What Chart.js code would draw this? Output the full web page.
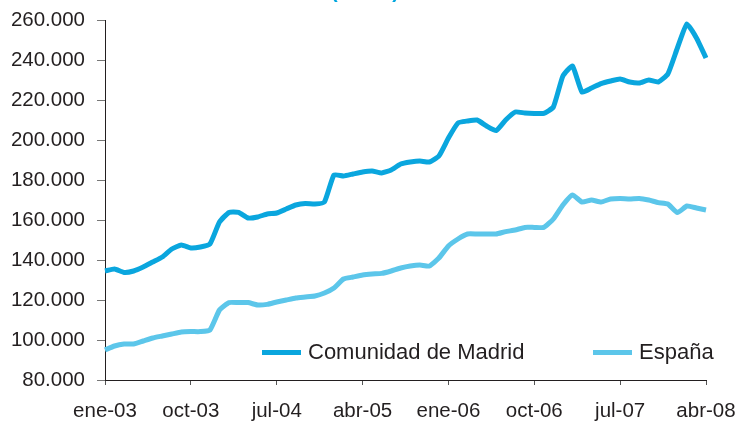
<!DOCTYPE html>
<html>
<head>
<meta charset="utf-8">
<script src="https://cdn.jsdelivr.net/npm/chart.js@4.4.1/dist/chart.umd.min.js"></script>
<style>
  html, body { margin: 0; padding: 0; background: #fff; }
  #wrap { position: relative; width: 741px; height: 421px; overflow: hidden; font-family: "Liberation Sans", Arial, sans-serif; }
  #title { position: absolute; left: 0; width: 730px; top: -20px; text-align: center; color: #00a6de; font-size: 20px; font-weight: bold; line-height: 23px; }
  .leg { position: absolute; top: 340px; font-size: 22px; color: #231f20; line-height: 24px; white-space: nowrap; }
  .leg span.sw { display: inline-block; width: 39px; height: 5px; vertical-align: middle; margin-right: 7px; position: relative; top: -1px; }
</style>
</head>
<body>
<div id="wrap">
  <div id="title">(euros)</div>
  <canvas id="chart" width="741" height="421"></canvas>
  <div class="leg" style="left:262px"><span class="sw" style="background:#0aa6de"></span>Comunidad de Madrid</div>
  <div class="leg" style="left:593px"><span class="sw" style="background:#5cc6ea"></span>España</div>
</div>
<script>
// monthly, ene-03 .. abr-08
const months = ['ene', 'feb', 'mar', 'abr', 'may', 'jun', 'jul', 'ago', 'sep', 'oct', 'nov', 'dic'];
const labels = [];
for (let y = 3; y <= 8; y++) {
  for (let m = 0; m < 12; m++) {
    if (y === 8 && m > 3) break;
    labels.push(months[m] + '-0' + y);
  }
}

const madrid = [
  134500, 135500, 133800, 134500, 136500, 139000, 141500, 145500, 147500, 146000,
  146500, 148000, 159000, 163800, 163800, 161000, 161500, 163000, 163500, 165500,
  167500, 168300, 168000, 169000, 182500, 182000, 183000, 184000, 184500, 183500,
  185000, 188000, 189000, 189500, 189000, 192000, 201000, 208500, 209500, 210000,
  207000, 204700, 210000, 214000, 213500, 213300, 213300, 216500, 232000, 237000,
  224000, 226000, 228200, 229500, 230500, 229000, 228500, 230000, 229000, 233000,
  246000, 258000, 251000, 241000
];

const espana = [
  95000, 97000, 98000, 98000, 99500, 101000, 102000, 103000, 104000, 104200,
  104200, 105000, 115000, 118700, 118700, 118700, 117500, 117800, 119000, 120000,
  121000, 121500, 122000, 123500, 126000, 130500, 131500, 132500, 133000, 133300,
  134500, 136000, 137000, 137500, 137000, 141000, 147000, 150500, 153000, 153000,
  153000, 153000, 154200, 155000, 156300, 156300, 156300, 160500, 167500, 172500,
  169000, 170000, 169000, 170500, 170800, 170500, 170800, 170000, 168700, 168000,
  163700, 167000, 166000, 165000
];

const yMin = 80000;
const yMax = 260000;
const yStep = 20000;

function fmt(v) {
  return String(v).replace(/\B(?=(\d{3})+(?!\d))/g, '.');
}

const ink = '#231f20';
const font = { family: '"Liberation Sans", Arial, sans-serif', size: 20.5 };

new Chart(document.getElementById('chart'), {
  type: 'line',
  data: {
    labels: labels,
    datasets: [
      { label: 'Comunidad de Madrid', data: madrid, borderColor: '#0aa6de', borderWidth: 5, pointRadius: 0, tension: 0.15 },
      { label: 'España', data: espana, borderColor: '#5cc6ea', borderWidth: 5, pointRadius: 0, tension: 0.15 }
    ]
  },
  options: {
    responsive: false,
    animation: false,
    layout: { padding: { top: 20, right: 35, left: 0, bottom: 0 } },
    plugins: { legend: { display: false }, tooltip: { enabled: false } },
    scales: {
      x: {
        offset: false,
        afterFit: (s) => { s.height = 41; s.paddingLeft = 0; s.paddingRight = 0; },
        border: { color: ink, width: 1 },
        grid: {
          drawOnChartArea: false,
          tickLength: 5,
          color: (c) => (c.index % 9 === 0 ? '#555' : 'rgba(0,0,0,0)')
        },
        ticks: {
          autoSkip: false,
          maxRotation: 0,
          padding: 14,
          color: ink,
          font: font,
          callback: function (v, i) { return i % 9 === 0 ? labels[i] : ''; }
        }
      },
      y: {
        min: yMin,
        max: yMax,
        afterFit: (s) => { s.width = 105; s.paddingTop = 0; s.paddingBottom = 0; },
        border: { color: ink, width: 1 },
        grid: { drawOnChartArea: false, tickLength: 8, color: '#777' },
        ticks: {
          stepSize: yStep,
          padding: 12,
          color: ink,
          font: font,
          callback: (v) => fmt(v)
        }
      }
    }
  }
});
</script>
</body>
</html>
